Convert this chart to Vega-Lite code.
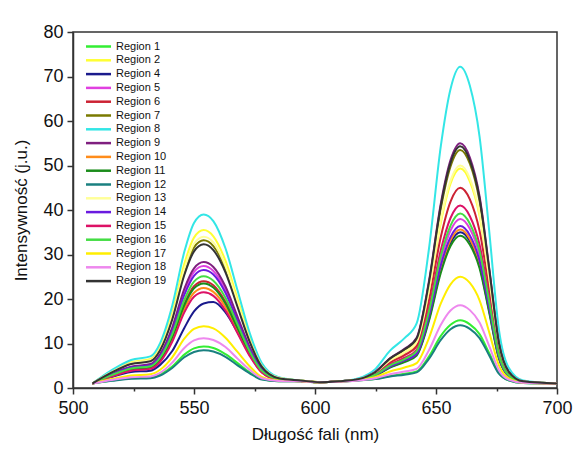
{
"$schema": "https://vega.github.io/schema/vega-lite/v6.json",
"width": 484, "height": 356,
"autosize": {"type": "none"},
"padding": {"left": 73, "top": 32, "right": 19, "bottom": 62},
"background": "white",
"config": {"view": {"stroke": "#333", "strokeWidth": 1.5}, "font": "Liberation Sans"},
"data": {"values": [
{"r":"Region 1","w":508,"v":1.0},{"r":"Region 1","w":516,"v":1.7},{"r":"Region 1","w":524,"v":2.2},{"r":"Region 1","w":532,"v":2.3},{"r":"Region 1","w":536,"v":3.0},{"r":"Region 1","w":541,"v":4.8},{"r":"Region 1","w":546,"v":7.5},{"r":"Region 1","w":550,"v":8.9},{"r":"Region 1","w":554,"v":9.3},{"r":"Region 1","w":558,"v":9.0},{"r":"Region 1","w":563,"v":7.6},{"r":"Region 1","w":568,"v":5.6},{"r":"Region 1","w":573,"v":3.5},{"r":"Region 1","w":578,"v":2.0},{"r":"Region 1","w":585,"v":1.5},{"r":"Region 1","w":594,"v":1.5},{"r":"Region 1","w":602,"v":1.3},{"r":"Region 1","w":610,"v":1.4},{"r":"Region 1","w":618,"v":1.7},{"r":"Region 1","w":625,"v":2.1},{"r":"Region 1","w":631,"v":2.7},{"r":"Region 1","w":637,"v":3.2},{"r":"Region 1","w":642,"v":3.7},{"r":"Region 1","w":647,"v":7.0},{"r":"Region 1","w":652,"v":11.7},{"r":"Region 1","w":656,"v":14.2},{"r":"Region 1","w":660,"v":15.2},{"r":"Region 1","w":664,"v":14.3},{"r":"Region 1","w":668,"v":12.1},{"r":"Region 1","w":672,"v":7.8},{"r":"Region 1","w":676,"v":3.4},{"r":"Region 1","w":680,"v":1.7},{"r":"Region 1","w":686,"v":1.1},{"r":"Region 1","w":700,"v":1.0},
{"r":"Region 2","w":508,"v":1.0},{"r":"Region 2","w":516,"v":3.8},{"r":"Region 2","w":524,"v":5.8},{"r":"Region 2","w":532,"v":6.5},{"r":"Region 2","w":536,"v":9.3},{"r":"Region 2","w":541,"v":16.9},{"r":"Region 2","w":546,"v":27.9},{"r":"Region 2","w":550,"v":33.8},{"r":"Region 2","w":554,"v":35.5},{"r":"Region 2","w":558,"v":34.1},{"r":"Region 2","w":563,"v":28.6},{"r":"Region 2","w":568,"v":20.0},{"r":"Region 2","w":573,"v":11.4},{"r":"Region 2","w":578,"v":5.1},{"r":"Region 2","w":585,"v":2.3},{"r":"Region 2","w":594,"v":1.7},{"r":"Region 2","w":602,"v":1.3},{"r":"Region 2","w":610,"v":1.5},{"r":"Region 2","w":618,"v":2.0},{"r":"Region 2","w":625,"v":3.4},{"r":"Region 2","w":631,"v":6.1},{"r":"Region 2","w":637,"v":8.0},{"r":"Region 2","w":642,"v":10.2},{"r":"Region 2","w":647,"v":21.3},{"r":"Region 2","w":652,"v":37.2},{"r":"Region 2","w":656,"v":45.9},{"r":"Region 2","w":660,"v":49.3},{"r":"Region 2","w":664,"v":46.4},{"r":"Region 2","w":668,"v":38.7},{"r":"Region 2","w":672,"v":24.2},{"r":"Region 2","w":676,"v":9.2},{"r":"Region 2","w":680,"v":3.4},{"r":"Region 2","w":686,"v":1.5},{"r":"Region 2","w":700,"v":1.0},
{"r":"Region 4","w":508,"v":1.0},{"r":"Region 4","w":516,"v":2.5},{"r":"Region 4","w":524,"v":3.6},{"r":"Region 4","w":532,"v":3.9},{"r":"Region 4","w":536,"v":5.2},{"r":"Region 4","w":541,"v":8.3},{"r":"Region 4","w":546,"v":13.5},{"r":"Region 4","w":550,"v":17.2},{"r":"Region 4","w":554,"v":19.0},{"r":"Region 4","w":558,"v":19.3},{"r":"Region 4","w":563,"v":17.0},{"r":"Region 4","w":568,"v":12.5},{"r":"Region 4","w":573,"v":7.5},{"r":"Region 4","w":578,"v":3.6},{"r":"Region 4","w":585,"v":1.8},{"r":"Region 4","w":594,"v":1.5},{"r":"Region 4","w":602,"v":1.3},{"r":"Region 4","w":610,"v":1.5},{"r":"Region 4","w":618,"v":1.9},{"r":"Region 4","w":625,"v":2.9},{"r":"Region 4","w":631,"v":4.7},{"r":"Region 4","w":637,"v":6.0},{"r":"Region 4","w":642,"v":7.5},{"r":"Region 4","w":647,"v":15.3},{"r":"Region 4","w":652,"v":26.5},{"r":"Region 4","w":656,"v":32.6},{"r":"Region 4","w":660,"v":35.0},{"r":"Region 4","w":664,"v":33.0},{"r":"Region 4","w":668,"v":27.5},{"r":"Region 4","w":672,"v":17.3},{"r":"Region 4","w":676,"v":6.8},{"r":"Region 4","w":680,"v":2.7},{"r":"Region 4","w":686,"v":1.3},{"r":"Region 4","w":700,"v":1.0},
{"r":"Region 5","w":508,"v":1.0},{"r":"Region 5","w":516,"v":3.1},{"r":"Region 5","w":524,"v":4.7},{"r":"Region 5","w":532,"v":5.2},{"r":"Region 5","w":536,"v":7.3},{"r":"Region 5","w":541,"v":13.1},{"r":"Region 5","w":546,"v":21.6},{"r":"Region 5","w":550,"v":26.1},{"r":"Region 5","w":554,"v":27.4},{"r":"Region 5","w":558,"v":26.3},{"r":"Region 5","w":563,"v":22.1},{"r":"Region 5","w":568,"v":15.5},{"r":"Region 5","w":573,"v":8.9},{"r":"Region 5","w":578,"v":4.2},{"r":"Region 5","w":585,"v":2.1},{"r":"Region 5","w":594,"v":1.6},{"r":"Region 5","w":602,"v":1.3},{"r":"Region 5","w":610,"v":1.5},{"r":"Region 5","w":618,"v":1.9},{"r":"Region 5","w":625,"v":3.0},{"r":"Region 5","w":631,"v":5.0},{"r":"Region 5","w":637,"v":6.4},{"r":"Region 5","w":642,"v":8.0},{"r":"Region 5","w":647,"v":16.5},{"r":"Region 5","w":652,"v":28.8},{"r":"Region 5","w":656,"v":35.4},{"r":"Region 5","w":660,"v":38.0},{"r":"Region 5","w":664,"v":35.8},{"r":"Region 5","w":668,"v":29.9},{"r":"Region 5","w":672,"v":18.8},{"r":"Region 5","w":676,"v":7.3},{"r":"Region 5","w":680,"v":2.9},{"r":"Region 5","w":686,"v":1.4},{"r":"Region 5","w":700,"v":1.0},
{"r":"Region 6","w":508,"v":1.0},{"r":"Region 6","w":516,"v":2.8},{"r":"Region 6","w":524,"v":4.2},{"r":"Region 6","w":532,"v":4.7},{"r":"Region 6","w":536,"v":6.5},{"r":"Region 6","w":541,"v":11.6},{"r":"Region 6","w":546,"v":18.9},{"r":"Region 6","w":550,"v":22.9},{"r":"Region 6","w":554,"v":24.0},{"r":"Region 6","w":558,"v":23.1},{"r":"Region 6","w":563,"v":19.4},{"r":"Region 6","w":568,"v":13.7},{"r":"Region 6","w":573,"v":7.9},{"r":"Region 6","w":578,"v":3.8},{"r":"Region 6","w":585,"v":2.0},{"r":"Region 6","w":594,"v":1.6},{"r":"Region 6","w":602,"v":1.3},{"r":"Region 6","w":610,"v":1.5},{"r":"Region 6","w":618,"v":2.0},{"r":"Region 6","w":625,"v":3.3},{"r":"Region 6","w":631,"v":5.7},{"r":"Region 6","w":637,"v":7.4},{"r":"Region 6","w":642,"v":9.4},{"r":"Region 6","w":647,"v":19.5},{"r":"Region 6","w":652,"v":34.0},{"r":"Region 6","w":656,"v":41.9},{"r":"Region 6","w":660,"v":45.0},{"r":"Region 6","w":664,"v":42.4},{"r":"Region 6","w":668,"v":35.3},{"r":"Region 6","w":672,"v":22.1},{"r":"Region 6","w":676,"v":8.5},{"r":"Region 6","w":680,"v":3.2},{"r":"Region 6","w":686,"v":1.4},{"r":"Region 6","w":700,"v":1.0},
{"r":"Region 7","w":508,"v":1.0},{"r":"Region 7","w":516,"v":3.6},{"r":"Region 7","w":524,"v":5.5},{"r":"Region 7","w":532,"v":6.2},{"r":"Region 7","w":536,"v":8.7},{"r":"Region 7","w":541,"v":15.8},{"r":"Region 7","w":546,"v":26.1},{"r":"Region 7","w":550,"v":31.6},{"r":"Region 7","w":554,"v":33.2},{"r":"Region 7","w":558,"v":31.9},{"r":"Region 7","w":563,"v":26.8},{"r":"Region 7","w":568,"v":18.7},{"r":"Region 7","w":573,"v":10.7},{"r":"Region 7","w":578,"v":4.9},{"r":"Region 7","w":585,"v":2.3},{"r":"Region 7","w":594,"v":1.7},{"r":"Region 7","w":602,"v":1.3},{"r":"Region 7","w":610,"v":1.5},{"r":"Region 7","w":618,"v":2.0},{"r":"Region 7","w":625,"v":3.6},{"r":"Region 7","w":631,"v":6.6},{"r":"Region 7","w":637,"v":8.6},{"r":"Region 7","w":642,"v":11.0},{"r":"Region 7","w":647,"v":23.1},{"r":"Region 7","w":652,"v":40.4},{"r":"Region 7","w":656,"v":49.8},{"r":"Region 7","w":660,"v":53.5},{"r":"Region 7","w":664,"v":50.4},{"r":"Region 7","w":668,"v":42.0},{"r":"Region 7","w":672,"v":26.2},{"r":"Region 7","w":676,"v":9.9},{"r":"Region 7","w":680,"v":3.6},{"r":"Region 7","w":686,"v":1.5},{"r":"Region 7","w":700,"v":1.0},
{"r":"Region 8","w":508,"v":1.0},{"r":"Region 8","w":516,"v":4.0},{"r":"Region 8","w":524,"v":6.3},{"r":"Region 8","w":532,"v":7.1},{"r":"Region 8","w":536,"v":10.1},{"r":"Region 8","w":541,"v":18.5},{"r":"Region 8","w":546,"v":30.6},{"r":"Region 8","w":550,"v":37.1},{"r":"Region 8","w":554,"v":39.0},{"r":"Region 8","w":558,"v":37.5},{"r":"Region 8","w":563,"v":31.4},{"r":"Region 8","w":568,"v":21.9},{"r":"Region 8","w":573,"v":12.4},{"r":"Region 8","w":578,"v":5.6},{"r":"Region 8","w":585,"v":2.4},{"r":"Region 8","w":594,"v":1.7},{"r":"Region 8","w":602,"v":1.3},{"r":"Region 8","w":610,"v":1.5},{"r":"Region 8","w":618,"v":2.2},{"r":"Region 8","w":625,"v":4.3},{"r":"Region 8","w":631,"v":8.4},{"r":"Region 8","w":637,"v":11.2},{"r":"Region 8","w":642,"v":14.5},{"r":"Region 8","w":647,"v":30.9},{"r":"Region 8","w":652,"v":54.4},{"r":"Region 8","w":656,"v":67.2},{"r":"Region 8","w":660,"v":72.2},{"r":"Region 8","w":664,"v":67.9},{"r":"Region 8","w":668,"v":56.5},{"r":"Region 8","w":672,"v":35.2},{"r":"Region 8","w":676,"v":13.1},{"r":"Region 8","w":680,"v":4.6},{"r":"Region 8","w":686,"v":1.7},{"r":"Region 8","w":700,"v":1.0},
{"r":"Region 9","w":508,"v":1.0},{"r":"Region 9","w":516,"v":3.2},{"r":"Region 9","w":524,"v":4.8},{"r":"Region 9","w":532,"v":5.4},{"r":"Region 9","w":536,"v":7.6},{"r":"Region 9","w":541,"v":13.6},{"r":"Region 9","w":546,"v":22.3},{"r":"Region 9","w":550,"v":26.9},{"r":"Region 9","w":554,"v":28.3},{"r":"Region 9","w":558,"v":27.2},{"r":"Region 9","w":563,"v":22.8},{"r":"Region 9","w":568,"v":16.0},{"r":"Region 9","w":573,"v":9.2},{"r":"Region 9","w":578,"v":4.3},{"r":"Region 9","w":585,"v":2.1},{"r":"Region 9","w":594,"v":1.6},{"r":"Region 9","w":602,"v":1.3},{"r":"Region 9","w":610,"v":1.5},{"r":"Region 9","w":618,"v":2.0},{"r":"Region 9","w":625,"v":3.7},{"r":"Region 9","w":631,"v":6.7},{"r":"Region 9","w":637,"v":8.8},{"r":"Region 9","w":642,"v":11.3},{"r":"Region 9","w":647,"v":23.7},{"r":"Region 9","w":652,"v":41.5},{"r":"Region 9","w":656,"v":51.2},{"r":"Region 9","w":660,"v":55.0},{"r":"Region 9","w":664,"v":51.8},{"r":"Region 9","w":668,"v":43.1},{"r":"Region 9","w":672,"v":26.9},{"r":"Region 9","w":676,"v":10.2},{"r":"Region 9","w":680,"v":3.7},{"r":"Region 9","w":686,"v":1.5},{"r":"Region 9","w":700,"v":1.0},
{"r":"Region 10","w":508,"v":1.0},{"r":"Region 10","w":516,"v":2.7},{"r":"Region 10","w":524,"v":4.0},{"r":"Region 10","w":532,"v":4.4},{"r":"Region 10","w":536,"v":6.2},{"r":"Region 10","w":541,"v":10.9},{"r":"Region 10","w":546,"v":17.8},{"r":"Region 10","w":550,"v":21.4},{"r":"Region 10","w":554,"v":22.5},{"r":"Region 10","w":558,"v":21.6},{"r":"Region 10","w":563,"v":18.2},{"r":"Region 10","w":568,"v":12.8},{"r":"Region 10","w":573,"v":7.5},{"r":"Region 10","w":578,"v":3.6},{"r":"Region 10","w":585,"v":1.9},{"r":"Region 10","w":594,"v":1.6},{"r":"Region 10","w":602,"v":1.3},{"r":"Region 10","w":610,"v":1.5},{"r":"Region 10","w":618,"v":1.9},{"r":"Region 10","w":625,"v":2.9},{"r":"Region 10","w":631,"v":4.8},{"r":"Region 10","w":637,"v":6.0},{"r":"Region 10","w":642,"v":7.6},{"r":"Region 10","w":647,"v":15.5},{"r":"Region 10","w":652,"v":27.0},{"r":"Region 10","w":656,"v":33.2},{"r":"Region 10","w":660,"v":35.6},{"r":"Region 10","w":664,"v":33.5},{"r":"Region 10","w":668,"v":28.0},{"r":"Region 10","w":672,"v":17.6},{"r":"Region 10","w":676,"v":6.9},{"r":"Region 10","w":680,"v":2.7},{"r":"Region 10","w":686,"v":1.3},{"r":"Region 10","w":700,"v":1.0},
{"r":"Region 11","w":508,"v":1.0},{"r":"Region 11","w":516,"v":2.8},{"r":"Region 11","w":524,"v":4.2},{"r":"Region 11","w":532,"v":4.6},{"r":"Region 11","w":536,"v":6.4},{"r":"Region 11","w":541,"v":11.4},{"r":"Region 11","w":546,"v":18.6},{"r":"Region 11","w":550,"v":22.4},{"r":"Region 11","w":554,"v":23.5},{"r":"Region 11","w":558,"v":22.6},{"r":"Region 11","w":563,"v":19.0},{"r":"Region 11","w":568,"v":13.4},{"r":"Region 11","w":573,"v":7.8},{"r":"Region 11","w":578,"v":3.7},{"r":"Region 11","w":585,"v":2.0},{"r":"Region 11","w":594,"v":1.6},{"r":"Region 11","w":602,"v":1.3},{"r":"Region 11","w":610,"v":1.5},{"r":"Region 11","w":618,"v":1.9},{"r":"Region 11","w":625,"v":2.8},{"r":"Region 11","w":631,"v":4.6},{"r":"Region 11","w":637,"v":5.8},{"r":"Region 11","w":642,"v":7.3},{"r":"Region 11","w":647,"v":14.9},{"r":"Region 11","w":652,"v":25.9},{"r":"Region 11","w":656,"v":31.9},{"r":"Region 11","w":660,"v":34.2},{"r":"Region 11","w":664,"v":32.2},{"r":"Region 11","w":668,"v":26.9},{"r":"Region 11","w":672,"v":16.9},{"r":"Region 11","w":676,"v":6.6},{"r":"Region 11","w":680,"v":2.7},{"r":"Region 11","w":686,"v":1.3},{"r":"Region 11","w":700,"v":1.0},
{"r":"Region 12","w":508,"v":1.0},{"r":"Region 12","w":516,"v":1.6},{"r":"Region 12","w":524,"v":2.1},{"r":"Region 12","w":532,"v":2.2},{"r":"Region 12","w":536,"v":2.8},{"r":"Region 12","w":541,"v":4.5},{"r":"Region 12","w":546,"v":6.9},{"r":"Region 12","w":550,"v":8.1},{"r":"Region 12","w":554,"v":8.5},{"r":"Region 12","w":558,"v":8.2},{"r":"Region 12","w":563,"v":7.0},{"r":"Region 12","w":568,"v":5.1},{"r":"Region 12","w":573,"v":3.3},{"r":"Region 12","w":578,"v":1.9},{"r":"Region 12","w":585,"v":1.5},{"r":"Region 12","w":594,"v":1.5},{"r":"Region 12","w":602,"v":1.3},{"r":"Region 12","w":610,"v":1.4},{"r":"Region 12","w":618,"v":1.7},{"r":"Region 12","w":625,"v":2.0},{"r":"Region 12","w":631,"v":2.6},{"r":"Region 12","w":637,"v":3.0},{"r":"Region 12","w":642,"v":3.5},{"r":"Region 12","w":647,"v":6.5},{"r":"Region 12","w":652,"v":10.8},{"r":"Region 12","w":656,"v":13.2},{"r":"Region 12","w":660,"v":14.1},{"r":"Region 12","w":664,"v":13.3},{"r":"Region 12","w":668,"v":11.2},{"r":"Region 12","w":672,"v":7.3},{"r":"Region 12","w":676,"v":3.2},{"r":"Region 12","w":680,"v":1.7},{"r":"Region 12","w":686,"v":1.1},{"r":"Region 12","w":700,"v":1.0},
{"r":"Region 13","w":508,"v":1.0},{"r":"Region 13","w":516,"v":3.6},{"r":"Region 13","w":524,"v":5.6},{"r":"Region 13","w":532,"v":6.3},{"r":"Region 13","w":536,"v":8.9},{"r":"Region 13","w":541,"v":16.2},{"r":"Region 13","w":546,"v":26.7},{"r":"Region 13","w":550,"v":32.4},{"r":"Region 13","w":554,"v":34.0},{"r":"Region 13","w":558,"v":32.7},{"r":"Region 13","w":563,"v":27.4},{"r":"Region 13","w":568,"v":19.2},{"r":"Region 13","w":573,"v":10.9},{"r":"Region 13","w":578,"v":5.0},{"r":"Region 13","w":585,"v":2.3},{"r":"Region 13","w":594,"v":1.7},{"r":"Region 13","w":602,"v":1.3},{"r":"Region 13","w":610,"v":1.5},{"r":"Region 13","w":618,"v":2.0},{"r":"Region 13","w":625,"v":3.5},{"r":"Region 13","w":631,"v":6.2},{"r":"Region 13","w":637,"v":8.1},{"r":"Region 13","w":642,"v":10.3},{"r":"Region 13","w":647,"v":21.6},{"r":"Region 13","w":652,"v":37.8},{"r":"Region 13","w":656,"v":46.6},{"r":"Region 13","w":660,"v":50.0},{"r":"Region 13","w":664,"v":47.1},{"r":"Region 13","w":668,"v":39.2},{"r":"Region 13","w":672,"v":24.5},{"r":"Region 13","w":676,"v":9.3},{"r":"Region 13","w":680,"v":3.5},{"r":"Region 13","w":686,"v":1.5},{"r":"Region 13","w":700,"v":1.0},
{"r":"Region 14","w":508,"v":1.0},{"r":"Region 14","w":516,"v":3.0},{"r":"Region 14","w":524,"v":4.6},{"r":"Region 14","w":532,"v":5.1},{"r":"Region 14","w":536,"v":7.1},{"r":"Region 14","w":541,"v":12.7},{"r":"Region 14","w":546,"v":20.9},{"r":"Region 14","w":550,"v":25.2},{"r":"Region 14","w":554,"v":26.5},{"r":"Region 14","w":558,"v":25.5},{"r":"Region 14","w":563,"v":21.4},{"r":"Region 14","w":568,"v":15.0},{"r":"Region 14","w":573,"v":8.7},{"r":"Region 14","w":578,"v":4.1},{"r":"Region 14","w":585,"v":2.1},{"r":"Region 14","w":594,"v":1.6},{"r":"Region 14","w":602,"v":1.3},{"r":"Region 14","w":610,"v":1.5},{"r":"Region 14","w":618,"v":1.9},{"r":"Region 14","w":625,"v":2.9},{"r":"Region 14","w":631,"v":4.8},{"r":"Region 14","w":637,"v":6.2},{"r":"Region 14","w":642,"v":7.7},{"r":"Region 14","w":647,"v":15.9},{"r":"Region 14","w":652,"v":27.6},{"r":"Region 14","w":656,"v":33.9},{"r":"Region 14","w":660,"v":36.4},{"r":"Region 14","w":664,"v":34.3},{"r":"Region 14","w":668,"v":28.6},{"r":"Region 14","w":672,"v":18.0},{"r":"Region 14","w":676,"v":7.0},{"r":"Region 14","w":680,"v":2.8},{"r":"Region 14","w":686,"v":1.4},{"r":"Region 14","w":700,"v":1.0},
{"r":"Region 15","w":508,"v":1.0},{"r":"Region 15","w":516,"v":2.6},{"r":"Region 15","w":524,"v":3.9},{"r":"Region 15","w":532,"v":4.3},{"r":"Region 15","w":536,"v":5.9},{"r":"Region 15","w":541,"v":10.4},{"r":"Region 15","w":546,"v":17.0},{"r":"Region 15","w":550,"v":20.5},{"r":"Region 15","w":554,"v":21.5},{"r":"Region 15","w":558,"v":20.7},{"r":"Region 15","w":563,"v":17.4},{"r":"Region 15","w":568,"v":12.3},{"r":"Region 15","w":573,"v":7.2},{"r":"Region 15","w":578,"v":3.5},{"r":"Region 15","w":585,"v":1.9},{"r":"Region 15","w":594,"v":1.6},{"r":"Region 15","w":602,"v":1.3},{"r":"Region 15","w":610,"v":1.5},{"r":"Region 15","w":618,"v":1.9},{"r":"Region 15","w":625,"v":3.1},{"r":"Region 15","w":631,"v":5.3},{"r":"Region 15","w":637,"v":6.8},{"r":"Region 15","w":642,"v":8.6},{"r":"Region 15","w":647,"v":17.8},{"r":"Region 15","w":652,"v":31.0},{"r":"Region 15","w":656,"v":38.2},{"r":"Region 15","w":660,"v":41.0},{"r":"Region 15","w":664,"v":38.6},{"r":"Region 15","w":668,"v":32.2},{"r":"Region 15","w":672,"v":20.2},{"r":"Region 15","w":676,"v":7.8},{"r":"Region 15","w":680,"v":3.0},{"r":"Region 15","w":686,"v":1.4},{"r":"Region 15","w":700,"v":1.0},
{"r":"Region 16","w":508,"v":1.0},{"r":"Region 16","w":516,"v":2.9},{"r":"Region 16","w":524,"v":4.4},{"r":"Region 16","w":532,"v":4.9},{"r":"Region 16","w":536,"v":6.8},{"r":"Region 16","w":541,"v":12.1},{"r":"Region 16","w":546,"v":19.8},{"r":"Region 16","w":550,"v":23.9},{"r":"Region 16","w":554,"v":25.1},{"r":"Region 16","w":558,"v":24.1},{"r":"Region 16","w":563,"v":20.3},{"r":"Region 16","w":568,"v":14.3},{"r":"Region 16","w":573,"v":8.2},{"r":"Region 16","w":578,"v":3.9},{"r":"Region 16","w":585,"v":2.0},{"r":"Region 16","w":594,"v":1.6},{"r":"Region 16","w":602,"v":1.3},{"r":"Region 16","w":610,"v":1.5},{"r":"Region 16","w":618,"v":1.9},{"r":"Region 16","w":625,"v":3.0},{"r":"Region 16","w":631,"v":5.1},{"r":"Region 16","w":637,"v":6.5},{"r":"Region 16","w":642,"v":8.3},{"r":"Region 16","w":647,"v":17.0},{"r":"Region 16","w":652,"v":29.7},{"r":"Region 16","w":656,"v":36.5},{"r":"Region 16","w":660,"v":39.2},{"r":"Region 16","w":664,"v":36.9},{"r":"Region 16","w":668,"v":30.8},{"r":"Region 16","w":672,"v":19.3},{"r":"Region 16","w":676,"v":7.5},{"r":"Region 16","w":680,"v":2.9},{"r":"Region 16","w":686,"v":1.4},{"r":"Region 16","w":700,"v":1.0},
{"r":"Region 17","w":508,"v":1.0},{"r":"Region 17","w":516,"v":2.0},{"r":"Region 17","w":524,"v":2.8},{"r":"Region 17","w":532,"v":3.1},{"r":"Region 17","w":536,"v":4.1},{"r":"Region 17","w":541,"v":6.9},{"r":"Region 17","w":546,"v":11.1},{"r":"Region 17","w":550,"v":13.3},{"r":"Region 17","w":554,"v":13.9},{"r":"Region 17","w":558,"v":13.4},{"r":"Region 17","w":563,"v":11.3},{"r":"Region 17","w":568,"v":8.1},{"r":"Region 17","w":573,"v":4.9},{"r":"Region 17","w":578,"v":2.5},{"r":"Region 17","w":585,"v":1.7},{"r":"Region 17","w":594,"v":1.5},{"r":"Region 17","w":602,"v":1.3},{"r":"Region 17","w":610,"v":1.4},{"r":"Region 17","w":618,"v":1.8},{"r":"Region 17","w":625,"v":2.5},{"r":"Region 17","w":631,"v":3.7},{"r":"Region 17","w":637,"v":4.6},{"r":"Region 17","w":642,"v":5.6},{"r":"Region 17","w":647,"v":11.1},{"r":"Region 17","w":652,"v":19.0},{"r":"Region 17","w":656,"v":23.3},{"r":"Region 17","w":660,"v":25.0},{"r":"Region 17","w":664,"v":23.6},{"r":"Region 17","w":668,"v":19.7},{"r":"Region 17","w":672,"v":12.5},{"r":"Region 17","w":676,"v":5.1},{"r":"Region 17","w":680,"v":2.2},{"r":"Region 17","w":686,"v":1.2},{"r":"Region 17","w":700,"v":1.0},
{"r":"Region 18","w":508,"v":1.0},{"r":"Region 18","w":516,"v":1.8},{"r":"Region 18","w":524,"v":2.4},{"r":"Region 18","w":532,"v":2.6},{"r":"Region 18","w":536,"v":3.4},{"r":"Region 18","w":541,"v":5.7},{"r":"Region 18","w":546,"v":9.0},{"r":"Region 18","w":550,"v":10.7},{"r":"Region 18","w":554,"v":11.2},{"r":"Region 18","w":558,"v":10.8},{"r":"Region 18","w":563,"v":9.2},{"r":"Region 18","w":568,"v":6.6},{"r":"Region 18","w":573,"v":4.1},{"r":"Region 18","w":578,"v":2.2},{"r":"Region 18","w":585,"v":1.6},{"r":"Region 18","w":594,"v":1.5},{"r":"Region 18","w":602,"v":1.3},{"r":"Region 18","w":610,"v":1.4},{"r":"Region 18","w":618,"v":1.7},{"r":"Region 18","w":625,"v":2.2},{"r":"Region 18","w":631,"v":3.1},{"r":"Region 18","w":637,"v":3.7},{"r":"Region 18","w":642,"v":4.3},{"r":"Region 18","w":647,"v":8.4},{"r":"Region 18","w":652,"v":14.2},{"r":"Region 18","w":656,"v":17.4},{"r":"Region 18","w":660,"v":18.6},{"r":"Region 18","w":664,"v":17.5},{"r":"Region 18","w":668,"v":14.7},{"r":"Region 18","w":672,"v":9.4},{"r":"Region 18","w":676,"v":4.0},{"r":"Region 18","w":680,"v":1.9},{"r":"Region 18","w":686,"v":1.2},{"r":"Region 18","w":700,"v":1.0},
{"r":"Region 19","w":508,"v":1.0},{"r":"Region 19","w":516,"v":3.5},{"r":"Region 19","w":524,"v":5.4},{"r":"Region 19","w":532,"v":6.0},{"r":"Region 19","w":536,"v":8.5},{"r":"Region 19","w":541,"v":15.4},{"r":"Region 19","w":546,"v":25.4},{"r":"Region 19","w":550,"v":30.7},{"r":"Region 19","w":554,"v":32.3},{"r":"Region 19","w":558,"v":31.0},{"r":"Region 19","w":563,"v":26.0},{"r":"Region 19","w":568,"v":18.2},{"r":"Region 19","w":573,"v":10.4},{"r":"Region 19","w":578,"v":4.8},{"r":"Region 19","w":585,"v":2.2},{"r":"Region 19","w":594,"v":1.7},{"r":"Region 19","w":602,"v":1.3},{"r":"Region 19","w":610,"v":1.5},{"r":"Region 19","w":618,"v":2.0},{"r":"Region 19","w":625,"v":3.6},{"r":"Region 19","w":631,"v":6.6},{"r":"Region 19","w":637,"v":8.7},{"r":"Region 19","w":642,"v":11.1},{"r":"Region 19","w":647,"v":23.4},{"r":"Region 19","w":652,"v":41.0},{"r":"Region 19","w":656,"v":50.6},{"r":"Region 19","w":660,"v":54.3},{"r":"Region 19","w":664,"v":51.1},{"r":"Region 19","w":668,"v":42.6},{"r":"Region 19","w":672,"v":26.6},{"r":"Region 19","w":676,"v":10.1},{"r":"Region 19","w":680,"v":3.7},{"r":"Region 19","w":686,"v":1.5},{"r":"Region 19","w":700,"v":1.0}
]},
"mark": {"type": "line", "interpolate": "monotone", "strokeWidth": 2},
"encoding": {
"x": {"field": "w", "type": "quantitative", "scale": {"domain": [500, 700], "nice": false},
 "axis": {"title": "Długość fali (nm)", "values": [500,525,550,575,600,625,650,675,700], "labelExpr": "datum.value % 50 == 0 ? datum.label : ''",
  "grid": false, "domainColor": "#333", "domainWidth": 1.5, "tickColor": "#333", "tickWidth": 1.5,
  "tickSize": {"condition": {"test": "datum.value % 50 == 0", "value": 6}, "value": 3},
  "labelFontSize": 18, "labelColor": "#111", "labelPadding": 5, "titleFontSize": 17, "titleFontWeight": "normal", "titleColor": "#111", "titlePadding": 9, "labelFont": "Liberation Sans", "titleFont": "Liberation Sans", "labelFlush": false}},
"y": {"field": "v", "type": "quantitative", "scale": {"domain": [0, 80], "nice": false},
 "axis": {"title": "Intensywność (j.u.)", "values": [0,10,20,30,40,50,60,70,80], "grid": false, "domainColor": "#333", "domainWidth": 1.5, "tickColor": "#333", "tickWidth": 1.5, "tickSize": 6,
  "labelFontSize": 18, "labelColor": "#111", "labelPadding": 4, "titleFontSize": 17, "titleFontWeight": "normal", "titleColor": "#111", "titlePadding": 12, "labelFont": "Liberation Sans", "titleFont": "Liberation Sans", "labelFlush": false}},
"color": {"field": "r", "type": "nominal",
 "scale": {"domain": ["Region 1","Region 2","Region 4","Region 5","Region 6","Region 7","Region 8","Region 9","Region 10","Region 11","Region 12","Region 13","Region 14","Region 15","Region 16","Region 17","Region 18","Region 19"],
  "range": ["#33ee33","#ffff33","#1a1a8c","#e040e0","#cc2233","#7a7a00","#33e6e6","#7f1f7f","#ff8c1a","#1a8c1a","#1a8080","#ffff99","#6a1adf","#dd1166","#44dd44","#ffee00","#ee88ee","#333333"]},
 "legend": {"title": null, "orient": "none", "legendX": 19, "legendY": 8, "padding": 0, "symbolType": "M-2.5,0H2.5", "symbolSize": 100, "symbolStrokeWidth": 2.5, "labelFontSize": 11, "labelFont": "Liberation Sans", "labelColor": "#111", "rowPadding": 1.8, "labelOffset": 11}}
}
}
